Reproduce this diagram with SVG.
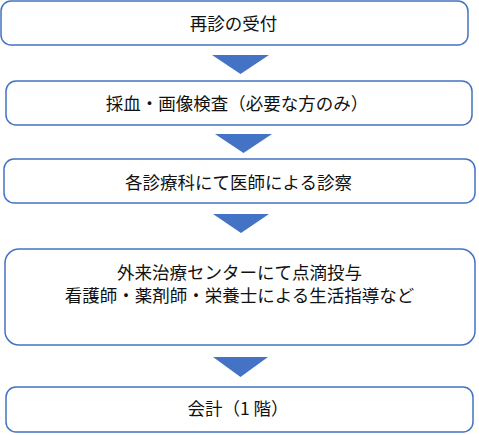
<svg xmlns="http://www.w3.org/2000/svg" width="479" height="435" viewBox="0 0 479 435">
<style>
.box{fill:#ffffff;stroke:#4472C4;stroke-width:1.5}
.arr{fill:#4472C4}
.t{font-family:"Noto Sans CJK JP","Noto Sans",sans-serif;font-size:17.5px;fill:#111111;text-anchor:middle}
</style>
<rect width="479" height="435" fill="#ffffff"/>
<g id="connectors">
<polygon class="arr" points="212,55 269,55 240.5,74"/>
<polygon class="arr" points="215,134 272,134 243.5,153"/>
<polygon class="arr" points="213,214 269,214 241,233"/>
<polygon class="arr" points="213,357 268,357 240.5,377"/>
</g>
<g id="node1">
<rect class="box" x="1" y="1" width="467" height="44" rx="10"/>
<text class="t" x="233.5" y="29.5">再診の受付</text>
</g>
<g id="node2">
<rect class="box" x="6" y="81" width="466" height="44" rx="10"/>
<text class="t" x="237" y="109.5">採血・画像検査（必要な方のみ）</text>
</g>
<g id="node3">
<rect class="box" x="4" y="159" width="471" height="44" rx="10"/>
<text class="t" x="238.5" y="188.5">各診療科にて医師による診察</text>
</g>
<g id="node4">
<rect class="box" x="5" y="249" width="470" height="96" rx="14"/>
<text class="t" x="239.5" y="278.5">外来治療センターにて点滴投与</text>
<text class="t" x="239.5" y="301.5">看護師・薬剤師・栄養士による生活指導など</text>
</g>
<g id="node5">
<rect class="box" x="6" y="387" width="467" height="45" rx="10"/>
<text class="t" x="238" y="414.5">会計（1 階）</text>
</g>
</svg>
